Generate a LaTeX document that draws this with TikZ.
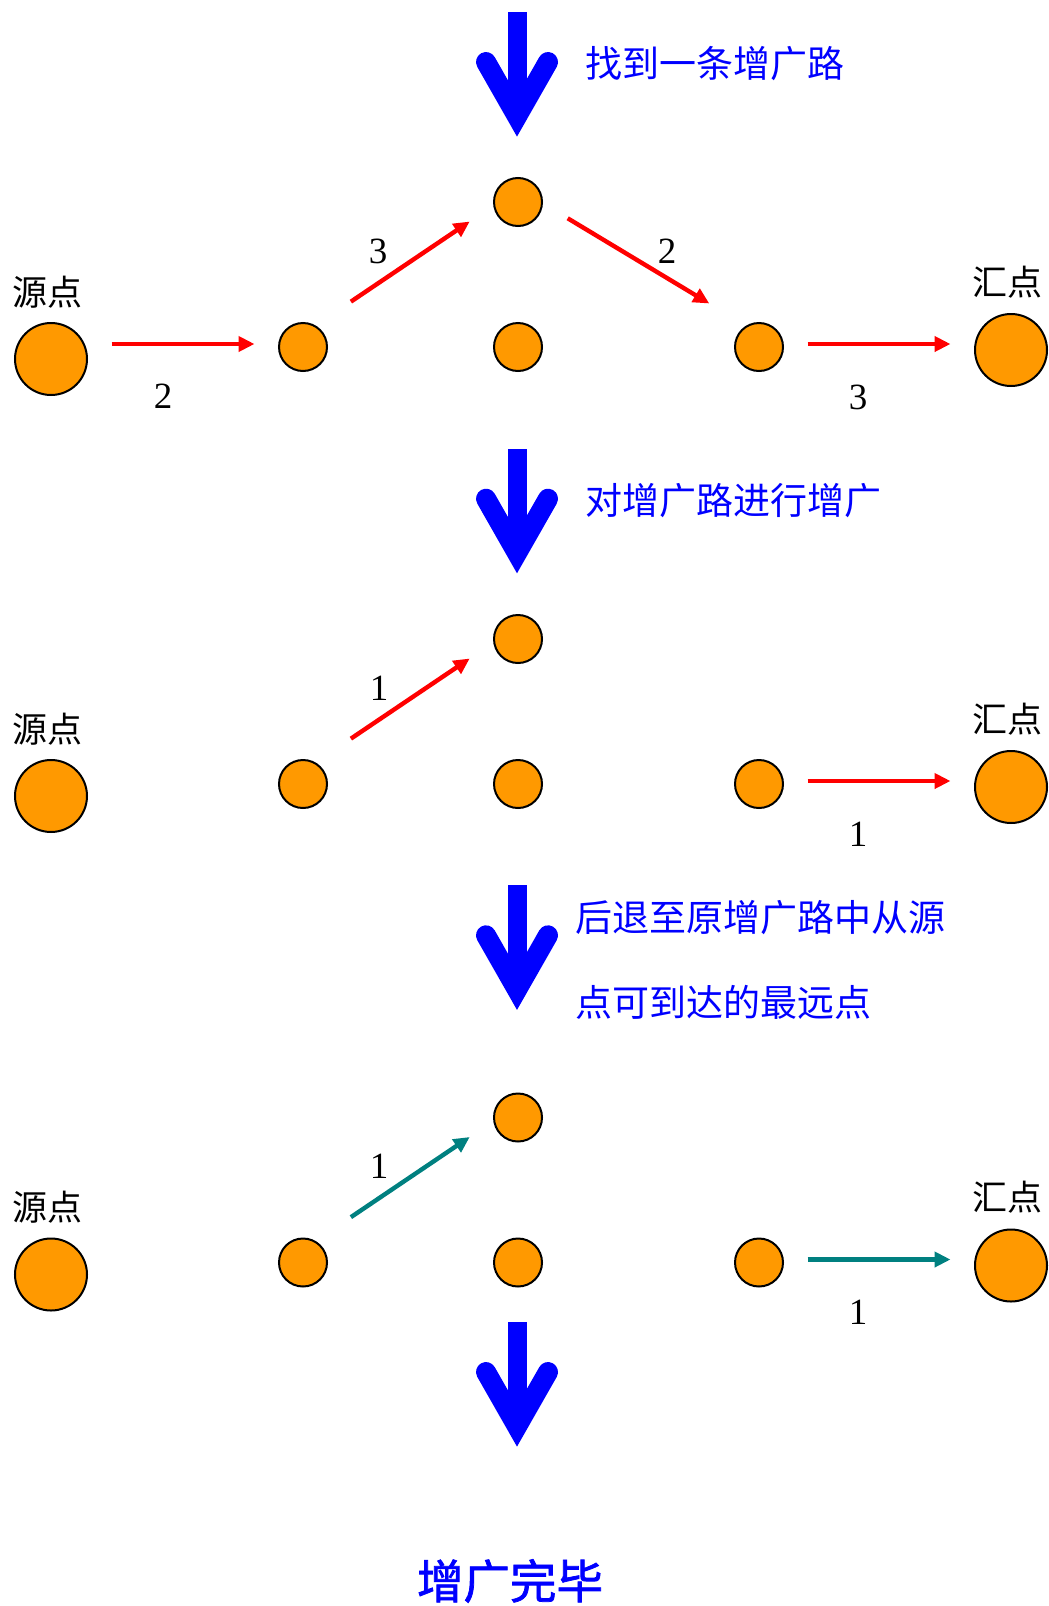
\documentclass[tikz,border=0pt]{standalone}
\usepackage{fontspec}
\setmainfont{Liberation Serif}
\newfontfamily\cjk{Noto Sans CJK SC}
\newfontfamily\cjkb[FakeBold=1.6]{Noto Sans CJK SC}
\usetikzlibrary{arrows.meta}
\definecolor{dotorange}{RGB}{255,153,0}
\definecolor{backteal}{RGB}{0,128,128}

\begin{document}
\begin{tikzpicture}[x=0.5pt,y=-0.5pt,
  dot/.style={circle,draw,line width=1pt,fill=dotorange,minimum size=24pt,inner sep=0pt},
  bigdot/.style={dot,minimum size=36pt},
  flow/.style={-{Triangle[length=8pt,width=7.5pt]},line width=2.2pt,red,shorten <=11.75pt,shorten >=11.75pt},
  back/.style={flow,backteal},
  lift/.style={transform canvas={yshift=1.5pt}},
  upleft/.style={shorten <=20pt,shorten >=13pt,transform canvas={shift={(-6,-9)}}},
  upright/.style={shorten <=13pt,shorten >=20pt,transform canvas={shift={(6,-10)}}},
  weightlbl/.style={font=\fontsize{18.5}{20}\selectfont,inner sep=0pt},
  endname/.style={font=\cjk\fontsize{17.5}{20}\selectfont,inner sep=0pt},
  hint/.style={blue,anchor=west,align=left,inner sep=0pt,font=\cjk\fontsize{18.5}{42.25}\selectfont},
  bigarrow/.style={blue,line width=10pt,line cap=round,line join=miter}]
  \useasboundingbox (0,0) rectangle (1049,1606);

  % 粗箭头
  \fill[blue] (507.5,12) rectangle (526.5,118);
  \draw[bigarrow] (486,62) -- (517,116.4) -- (548,62);
  \fill[blue] (507.5,448.7) rectangle (526.5,554.7);
  \draw[bigarrow] (486,498.7) -- (517,553.1) -- (548,498.7);
  \fill[blue] (507.5,885.3) rectangle (526.5,991.3);
  \draw[bigarrow] (486,935.3) -- (517,989.7) -- (548,935.3);
  \fill[blue] (507.5,1322) rectangle (526.5,1428);
  \draw[bigarrow] (486,1372) -- (517,1426.4) -- (548,1372);

  \node[hint] (h1) at (585,64) {找到一条增广路};
  \node[hint] (h2) at (585,501) {对增广路进行增广};
  \node[hint] (h3) at (575,959.75) {后退至原增广路中从源\\点可到达的最远点};
  \node[blue,inner sep=0pt,font=\cjkb\fontsize{23.25}{26}\selectfont] (h4) at (510,1581) {增广完毕};

  % 第一行: 找到的增广路
  \node[bigdot] (s1) at (51,359) {};
  \node[dot] (a1) at (303,347) {};
  \node[dot] (b1) at (518,202) {};
  \node[dot] (c1) at (518,347) {};
  \node[dot] (d1) at (759,347) {};
  \node[bigdot] (t1) at (1011,350) {};
  \node[endname] (ls1) at (47,292) {源点};
  \node[endname] (lt1) at (1007,282) {汇点};

  \draw[flow,lift] (s1.east |- a1) -- (a1);
  \draw[flow,upleft] (a1) -- (b1);
  \draw[flow,upright] (b1) -- (d1);
  \draw[flow,lift] (d1) -- (t1.west |- d1);
  \node[weightlbl] (w11) at (163,396) {2};
  \node[weightlbl] (w12) at (378,251) {3};
  \node[weightlbl] (w13) at (667,251) {2};
  \node[weightlbl] (w14) at (858,397) {3};

  % 第二行: 增广之后
  \node[bigdot] (s2) at (51,796) {};
  \node[dot] (a2) at (303,784) {};
  \node[dot] (b2) at (518,639) {};
  \node[dot] (c2) at (518,784) {};
  \node[dot] (d2) at (759,784) {};
  \node[bigdot] (t2) at (1011,787) {};
  \node[endname] (ls2) at (47,729) {源点};
  \node[endname] (lt2) at (1007,719) {汇点};

  \draw[flow,upleft] (a2) -- (b2);
  \draw[flow,lift] (d2) -- (t2.west |- d2);
  \node[weightlbl] (w21) at (379,688) {1};
  \node[weightlbl] (w22) at (858,834) {1};

  % 第三行: 后退之后
  \node[bigdot] (s3) at (51,1274.5) {};
  \node[dot] (a3) at (303,1262.5) {};
  \node[dot] (b3) at (518,1117.5) {};
  \node[dot] (c3) at (518,1262.5) {};
  \node[dot] (d3) at (759,1262.5) {};
  \node[bigdot] (t3) at (1011,1265.5) {};
  \node[endname] (ls3) at (47,1207.5) {源点};
  \node[endname] (lt3) at (1007,1197.5) {汇点};

  \draw[back,upleft] (a3) -- (b3);
  \draw[back,lift] (d3) -- (t3.west |- d3);
  \node[weightlbl] (w31) at (379,1166.5) {1};
  \node[weightlbl] (w32) at (858,1312) {1};
\end{tikzpicture}
\end{document}
